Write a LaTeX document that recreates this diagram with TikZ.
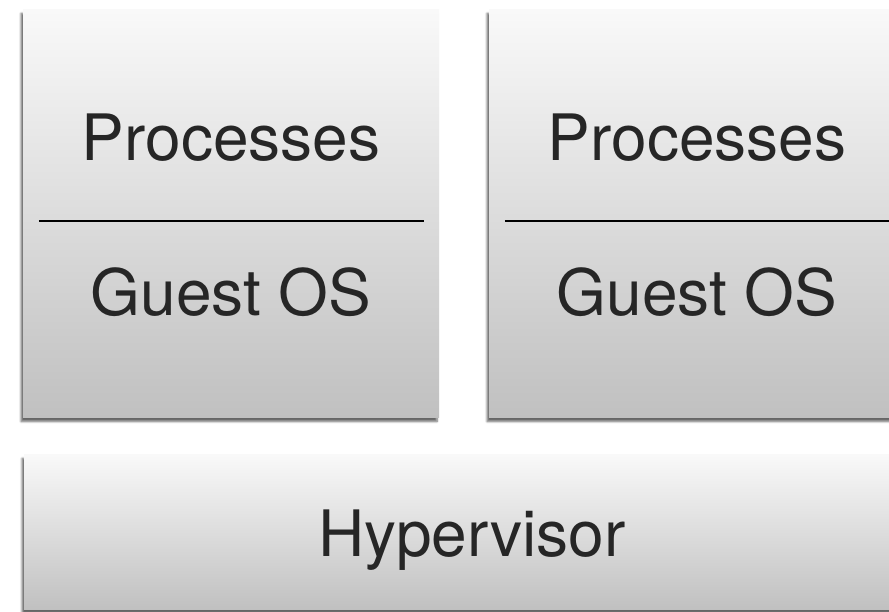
\documentclass[tikz,border=0pt]{standalone}
\usepackage{fontspec}
\setmainfont{TeX Gyre Heros}
\usetikzlibrary{shadows.blur}
\definecolor{boxtop}{HTML}{F9F9F9}
\definecolor{boxbot}{HTML}{C0C0C0}
\tikzset{
  panel/.style={rectangle, inner sep=0pt, draw=none,
    top color=boxtop, bottom color=boxbot,
    blur shadow={shadow xshift=-2pt, shadow yshift=-3.5pt, shadow blur steps=6, shadow opacity=60}},
  vmbox/.style={panel, minimum width=416pt, minimum height=408pt},
  label/.style={anchor=base, inner sep=0pt, text=black!85, font=\fontsize{64}{64}\selectfont},
  divider/.style={line width=1.6pt, black}
}
\begin{document}
\begin{tikzpicture}[x=1pt,y=1pt]
  \useasboundingbox (0,0) rectangle (889,612);
  \clip (0,0) rectangle (889,612);
  % two virtual machines
  \node[vmbox] (vmA) at (231,398) {};
  \node[vmbox] (vmB) at (697,398) {};
  % hypervisor layer
  \node[panel, minimum width=896pt, minimum height=155pt] (hyp) at (472,79.5) {};
  \foreach \vm/\x in {A/231,B/697}{
    \node[label] (proc\vm) at (\x,451) {Processes};
    \node[label] (guest\vm) at (\x,296) {Guest OS};
    \coordinate (divL\vm) at ([xshift=16pt]vm\vm.west |- 0,391);
    \coordinate (divR\vm) at ([xshift=-15pt]vm\vm.east |- 0,391);
    \draw[divider] (divL\vm) -- (divR\vm);
  }
  \node[label] (hyptext) at (hyp.center |- 0,55) {Hypervisor};
\end{tikzpicture}
\end{document}
